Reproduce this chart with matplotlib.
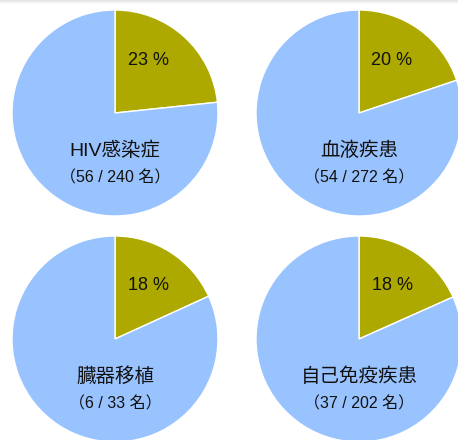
import numpy as np
import matplotlib
matplotlib.use('Agg')
import matplotlib.pyplot as plt

plt.rcParams['font.family'] = ['Liberation Sans', 'Noto Sans CJK JP', 'DejaVu Sans']

names = ['HIV感染症', '血液疾患', '臓器移植', '自己免疫疾患']
cases = [56, 54, 6, 37]
totals = [240, 272, 33, 202]
pct_labels = ['23 %', '20 %', '18 %', '18 %']

OLIVE = '#ADA900'
BLUE = '#99C3FF'

W, H = 458, 440
fig = plt.figure(figsize=(W / 100, H / 100), dpi=100)
ax = fig.add_axes([0, 0, 1, 1])

# faint gray band at the top edge
for i, c in enumerate(['#e4e4e4', '#ececec', '#f3f3f3', '#fafafa']):
    ax.axhspan(H - i - 1, H - i, color=c, lw=0)

centers = [(115, H - 113), (359, H - 113), (115, H - 339), (359, H - 339)]
R = 103

for (cx, cy), name, n, tot, pl in zip(centers, names, cases, totals, pct_labels):
    ax.pie([n, tot - n], colors=[OLIVE, BLUE], startangle=90, counterclock=False,
           center=(cx, cy), radius=R, frame=True,
           wedgeprops=dict(edgecolor='white', linewidth=1))
    ax.text(cx + 33, cy + 53, pl, ha='center', va='center', fontsize=13, color='#111111')
    ax.text(cx, cy - 38, name, ha='center', va='center', fontsize=14, color='#111111')
    ax.text(cx, cy - 65, f'（{n} / {tot} 名）', ha='center', va='center',
            fontsize=11.5, color='#111111')

ax.set_xlim(0, W)
ax.set_ylim(0, H)
ax.set_aspect('equal')
ax.axis('off')
fig.savefig('out.png', dpi=100)
